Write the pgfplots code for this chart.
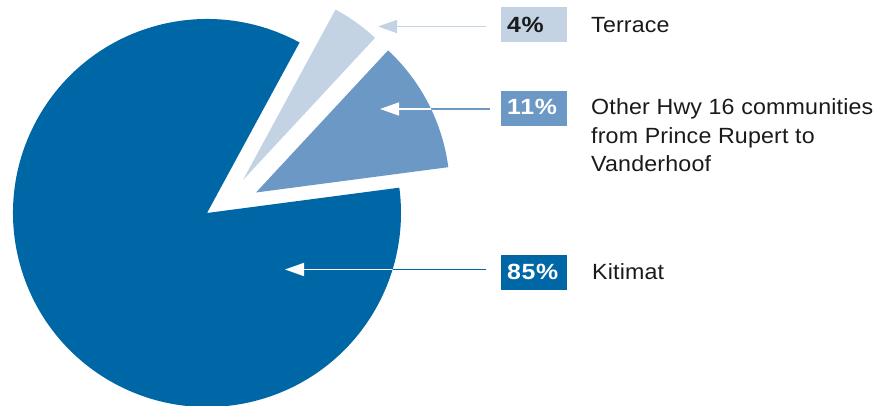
\documentclass[border=0pt]{standalone}
\usepackage{pgfplots}
\pgfplotsset{compat=1.18}
\usepackage{pgfplotstable}
\usepackage{fontspec}
\setmainfont{Liberation Sans}[FakeStretch=1.055, LetterSpace=0.8]
\newfontfamily\pctfont{Liberation Sans}[FakeStretch=1.13, LetterSpace=3]
\usetikzlibrary{arrows.meta}

\definecolor{cKit}{HTML}{0067A6}
\definecolor{cOth}{HTML}{6B98C4}
\definecolor{cTer}{HTML}{C3D3E4}
\definecolor{cTxt}{HTML}{1A1A1A}

% share in percent and the shift of each slice's apex (px), order counterclockwise
\pgfplotstableread{
pct dx dy
11 49 20.5
4 36 33
85 0 0
}\slices

\def\cx{207}\def\cy{193}\def\rad{194pt}
\def\startang{7.5}

% Other Hwy 16
\pgfplotstablegetelem{0}{pct}\of\slices
\pgfmathsetmacro\sA{\startang}\pgfmathsetmacro\eA{\sA+3.6*\pgfplotsretval}
\pgfplotstablegetelem{0}{dx}\of\slices \pgfmathsetmacro\xA{\cx+\pgfplotsretval}
\pgfplotstablegetelem{0}{dy}\of\slices \pgfmathsetmacro\yA{\cy+\pgfplotsretval}
% Terrace
\pgfplotstablegetelem{1}{pct}\of\slices
\pgfmathsetmacro\sB{\eA}\pgfmathsetmacro\eB{\sB+3.6*\pgfplotsretval}
\pgfplotstablegetelem{1}{dx}\of\slices \pgfmathsetmacro\xB{\cx+\pgfplotsretval}
\pgfplotstablegetelem{1}{dy}\of\slices \pgfmathsetmacro\yB{\cy+\pgfplotsretval}
% Kitimat
\pgfplotstablegetelem{2}{pct}\of\slices
\pgfmathsetmacro\sC{\eB}\pgfmathsetmacro\eC{\sC+3.6*\pgfplotsretval}
\pgfplotstablegetelem{2}{dx}\of\slices \pgfmathsetmacro\xC{\cx+\pgfplotsretval}
\pgfplotstablegetelem{2}{dy}\of\slices \pgfmathsetmacro\yC{\cy+\pgfplotsretval}

\newcommand\slicepath[4]{(axis cs:#1,#2) -- ++(#3:\rad) arc[start angle=#3, end angle=#4, radius=\rad] -- cycle}

\begin{document}
\begin{tikzpicture}[font=\fontsize{22}{28.3}\selectfont]
\begin{axis}[
    scale only axis,
    width=882pt, height=406pt,
    xmin=0, xmax=882, ymin=0, ymax=406,
    hide axis,
]
\fill[cKit] \slicepath{\xC}{\yC}{\sC}{\eC};
\fill[cOth] \slicepath{\xA}{\yA}{\sA}{\eA};
\fill[cTer] \slicepath{\xB}{\yB}{\sB}{\eB};

% leader arrows
\draw[cTer, line width=1.7pt, -{Triangle[length=19pt,width=13pt]}] (axis cs:486,379.5) -- (axis cs:378,379.5);
\draw[cOth, line width=1.7pt] (axis cs:490,297) -- (axis cs:395,297);
\begin{scope}
  \clip \slicepath{\xA}{\yA}{\sA}{\eA};
  \draw[white, line width=1.7pt, -{Triangle[length=19pt,width=13pt]}] (axis cs:490,297) -- (axis cs:380,297);
\end{scope}
\draw[cKit, line width=1.7pt] (axis cs:486,136.5) -- (axis cs:300,136.5);
\begin{scope}
  \clip \slicepath{\xC}{\yC}{\sC}{\eC};
  \draw[white, line width=1.7pt, -{Triangle[length=19pt,width=13pt]}] (axis cs:486,136.5) -- (axis cs:285,136.5);
\end{scope}

% value boxes
\fill[cTer] (axis cs:501,364.3) rectangle (axis cs:567,399.3);
\fill[cOth] (axis cs:501,280.3) rectangle (axis cs:567,315.3);
\fill[cKit] (axis cs:501,116) rectangle (axis cs:567,151);
\tikzset{pct/.style={anchor=base west, inner sep=0pt, font=\fontsize{22}{28.3}\pctfont\bfseries}}
\node[pct, text=cTxt] at (axis cs:507,373) {4\%};
\node[pct, text=white] at (axis cs:507,291) {11\%};
\node[pct, text=white] at (axis cs:507,126) {85\%};

% category names
\node[anchor=base west, inner sep=0pt, text=cTxt] at (axis cs:591,373) {Terrace};
\node[anchor=base west, inner sep=0pt, text=cTxt] at (axis cs:591,291) {Other Hwy 16 communities};
\node[anchor=base west, inner sep=0pt, text=cTxt] at (axis cs:591,262.7) {from Prince Rupert to};
\node[anchor=base west, inner sep=0pt, text=cTxt] at (axis cs:591,234.3) {Vanderhoof};
\node[anchor=base west, inner sep=0pt, text=cTxt] at (axis cs:592,126) {Kitimat};
\end{axis}
\pgfresetboundingbox
\path (current axis.south west) rectangle (current axis.north east);
\end{tikzpicture}
\end{document}
